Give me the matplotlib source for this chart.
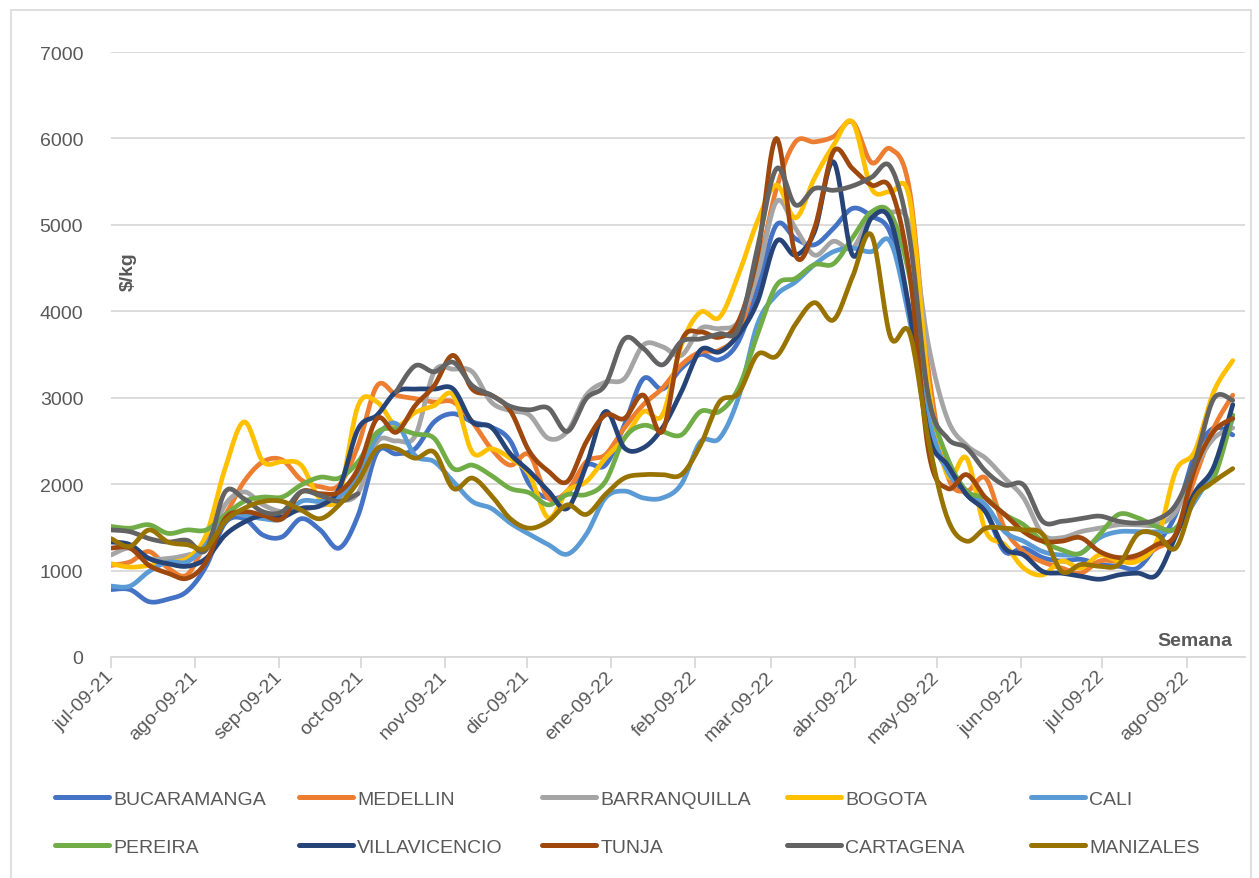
import numpy as np
import pandas as pd
import matplotlib
matplotlib.use('Agg')
import matplotlib.pyplot as plt
import matplotlib.dates as mdates
from matplotlib.lines import Line2D
from matplotlib.patches import Rectangle

plt.rcParams['font.family'] = ['Liberation Sans', 'DejaVu Sans']

# weekly prices ($/kg), starting jul-09-21
weeks = pd.date_range('2021-07-09', periods=60, freq='7D')

tick_dates = pd.to_datetime(['2021-07-09', '2021-08-09', '2021-09-09', '2021-10-09', '2021-11-09',
                             '2021-12-09', '2022-01-09', '2022-02-09', '2022-03-09', '2022-04-09',
                             '2022-05-09', '2022-06-09', '2022-07-09', '2022-08-09'])
tick_labels = ['jul-09-21', 'ago-09-21', 'sep-09-21', 'oct-09-21', 'nov-09-21', 'dic-09-21', 'ene-09-22',
               'feb-09-22', 'mar-09-22', 'abr-09-22', 'may-09-22', 'jun-09-22', 'jul-09-22', 'ago-09-22']

bucaramanga = [780, 780, 640, 670, 760, 1050, 1550, 1600, 1410, 1390, 1600, 1470, 1260, 1640, 2370,
               2350, 2410, 2720, 2815, 2720, 2660, 2500, 2000, 1840, 1900, 2220, 2220, 2680, 3220, 3100,
               3340, 3500, 3440, 3650, 4270, 5000, 4840, 4770, 4960, 5190, 5100, 4900, 4000, 2680, 2150,
               1880, 1680, 1220, 1260, 1150, 1110, 1130, 1070, 1050, 1030, 1300, 1650, 2340, 2650, 2570]
medellin = [1060, 1100, 1220, 1030, 950, 1330, 1640, 2030, 2260, 2280, 2050, 1970, 1990, 2450, 3140,
            3030, 2990, 2950, 2950, 2720, 2410, 2220, 2340, 1840, 1920, 2260, 2340, 2650, 2920, 3110,
            3380, 3530, 3550, 3760, 4460, 5420, 5960, 5960, 6020, 6190, 5720, 5880, 5400, 3300, 2100,
            1920, 2070, 1490, 1220, 1100, 1030, 970, 1110, 1110, 1150, 1260, 1420, 2070, 2650, 3030]
barranquilla = [1180, 1260, 1140, 1140, 1180, 1260, 1760, 1910, 1760, 1680, 1700, 1750, 1800, 1900, 2490,
                2500, 2560, 3300, 3330, 3300, 2950, 2850, 2800, 2530, 2610, 3030, 3180, 3220, 3610, 3590,
                3490, 3800, 3800, 3880, 4420, 5270, 4960, 4650, 4810, 4730, 5110, 5150, 4990, 3600, 2750,
                2450, 2300, 2070, 1840, 1420, 1380, 1450, 1490, 1530, 1530, 1530, 1680, 2180, 2530, 2650]
bogota = [1080, 1040, 1060, 1100, 1140, 1410, 2180, 2720, 2260, 2260, 2220, 1830, 1870, 2910, 2950,
          2680, 2830, 2910, 3030, 2370, 2410, 2300, 2110, 1610, 1920, 2030, 2300, 2530, 2840, 2800,
          3610, 3990, 3930, 4420, 5040, 5460, 5080, 5540, 5920, 6190, 5420, 5380, 5300, 3150, 2100,
          2300, 1460, 1300, 1030, 950, 1110, 1030, 1180, 1110, 1110, 1340, 2150, 2380, 3070, 3430]
cali = [820, 820, 990, 1100, 1100, 1300, 1640, 1640, 1600, 1600, 1800, 1800, 1850, 2100, 2550,
        2700, 2330, 2260, 2030, 1800, 1720, 1550, 1420, 1300, 1190, 1420, 1840, 1920, 1840, 1840,
        2000, 2490, 2530, 3000, 3850, 4190, 4340, 4540, 4690, 4730, 4690, 4800, 3900, 2760, 2150,
        1920, 1760, 1450, 1340, 1220, 1180, 1200, 1380, 1450, 1450, 1450, 1490, 1800, 2180, 2760]
pereira = [1510, 1490, 1530, 1430, 1470, 1470, 1640, 1800, 1850, 1850, 1990, 2080, 2070, 2260, 2600,
           2640, 2580, 2530, 2180, 2220, 2100, 1950, 1900, 1760, 1880, 1880, 2030, 2530, 2680, 2610,
           2570, 2840, 2840, 3110, 3730, 4300, 4380, 4540, 4550, 4850, 5150, 5130, 4400, 3000, 2300,
           1920, 1840, 1650, 1530, 1340, 1240, 1200, 1420, 1650, 1610, 1510, 1490, 1880, 2070, 2800]
villavicencio = [1330, 1300, 1140, 1080, 1050, 1140, 1410, 1560, 1640, 1620, 1720, 1750, 1950, 2640, 2800,
                 3070, 3100, 3100, 3100, 2720, 2660, 2350, 2150, 1920, 1720, 2220, 2840, 2420, 2420, 2650,
                 3070, 3550, 3530, 3730, 4110, 4810, 4650, 4920, 5730, 4650, 5080, 5050, 4000, 2570, 2220,
                 1880, 1680, 1260, 1180, 990, 970, 935, 900, 950, 970, 950, 1400, 1900, 2200, 2920]
tunja = [1260, 1260, 1060, 970, 910, 1100, 1600, 1680, 1640, 1600, 1910, 1890, 1910, 2180, 2760,
         2600, 2910, 3140, 3490, 3100, 3030, 2850, 2380, 2150, 2030, 2490, 2800, 2760, 3030, 2610,
         3650, 3760, 3700, 3880, 4650, 6000, 4650, 4960, 5850, 5650, 5460, 5420, 4450, 2380, 1950,
         2110, 1840, 1650, 1450, 1340, 1340, 1380, 1220, 1150, 1180, 1300, 1420, 2180, 2610, 2760]
cartagena = [1470, 1450, 1370, 1330, 1350, 1240, 1910, 1830, 1680, 1680, 1910, 1870, 1800, 1890, np.nan,
             3070, 3370, 3300, 3410, 3140, 3030, 2900, 2860, 2880, 2610, 2990, 3150, 3680, 3570, 3380,
             3650, 3680, 3740, 3800, 4730, 5650, 5230, 5420, 5400, 5450, 5550, 5670, 4850, 3000, 2530,
             2420, 2150, 1990, 1990, 1570, 1570, 1600, 1630, 1570, 1550, 1590, 1760, 2260, 2990, 2970]
manizales = [1370, 1280, 1470, 1330, 1300, 1260, 1570, 1720, 1800, 1800, 1700, 1600, 1760, 2030, 2410,
             2410, 2300, 2370, 1950, 2070, 1870, 1600, 1490, 1570, 1760, 1650, 1880, 2070, 2110, 2110,
             2110, 2450, 2950, 3050, 3500, 3480, 3850, 4100, 3900, 4400, 4880, 3700, 3750, 2500, 1600,
             1340, 1490, 1490, 1470, 1420, 990, 1070, 1050, 1070, 1420, 1420, 1260, 1840, 2030, 2180]

names = ['BUCARAMANGA', 'MEDELLIN', 'BARRANQUILLA', 'BOGOTA', 'CALI',
         'PEREIRA', 'VILLAVICENCIO', 'TUNJA', 'CARTAGENA', 'MANIZALES']
series = [bucaramanga, medellin, barranquilla, bogota, cali,
          pereira, villavicencio, tunja, cartagena, manizales]
colors = ['#4472C4', '#ED7D31', '#A5A5A5', '#FFC000', '#5B9BD5',
          '#70AD47', '#264478', '#9E480E', '#636363', '#997300']


def smooth(x, y, n=16):
    """Bezier smoothing (Excel-like) through the points of one segment."""
    xs, ys = [], []
    m = len(x)
    for i in range(m - 1):
        p0 = i - 1 if i > 0 else i
        p3 = i + 2 if i + 2 < m else i + 1
        c1x = x[i] + (x[i + 1] - x[p0]) / 6
        c1y = y[i] + (y[i + 1] - y[p0]) / 6
        c2x = x[i + 1] - (x[p3] - x[i]) / 6
        c2y = y[i + 1] - (y[p3] - y[i]) / 6
        t = np.linspace(0, 1, n, endpoint=(i == m - 2))
        a, b, c, d = (1 - t) ** 3, 3 * (1 - t) ** 2 * t, 3 * (1 - t) * t ** 2, t ** 3
        xs.append(a * x[i] + b * c1x + c * c2x + d * x[i + 1])
        ys.append(a * y[i] + b * c1y + c * c2y + d * y[i + 1])
    return np.concatenate(xs), np.concatenate(ys)


W, H = 1259, 879
fig = plt.figure(figsize=(W / 100, H / 100), dpi=100)
ax = fig.add_axes([111 / W, (H - 658) / H, (1245 - 111) / W, (658 - 53) / H])

xnum = mdates.date2num(weeks)
for name, vals, col in zip(names, series, colors):
    vals = np.array(vals, dtype=float)
    ok = np.isfinite(vals)
    # split at missing weeks
    idx = np.where(ok)[0]
    runs = np.split(idx, np.where(np.diff(idx) > 1)[0] + 1)
    for r in runs:
        if len(r) < 2:
            continue
        sx, sy = smooth(xnum[r], vals[r])
        ax.plot(sx, sy, color=col, lw=3.4, solid_capstyle='round', solid_joinstyle='round')

ax.set_xlim(xnum[0], xnum[0] + 417.5)
ax.set_ylim(0, 7000)
ax.set_yticks(np.arange(0, 7001, 1000))
ax.set_xticks(mdates.date2num(tick_dates))
ax.set_xticklabels(tick_labels, rotation=45, ha='right', va='center', rotation_mode='anchor')
ax.tick_params(axis='y', length=0, pad=20, labelsize=14, labelcolor='#595959')
ax.tick_params(axis='x', length=8, width=1.3, color='#D9D9D9', pad=4, labelsize=14, labelcolor='#595959')
ax.grid(axis='y', color='#D9D9D9', lw=1.3)
ax.set_axisbelow(True)
for s in ['top', 'right', 'left']:
    ax.spines[s].set_visible(False)
ax.spines['bottom'].set_color('#D9D9D9')
ax.spines['bottom'].set_linewidth(1.3)

fig.text(128 / W, 1 - 272 / H, '$/kg', rotation=90, fontsize=14, fontweight='bold',
         color='#595959', ha='center', va='center', parse_math=False)
fig.text(1232 / W, 1 - 642 / H, 'Semana', fontsize=14, fontweight='bold',
         color='#595959', ha='right', va='center')

# legend, 2 rows x 5 columns
col_x = [55, 299, 542, 787, 1031]
row_y = [800, 848]
for k, (name, col) in enumerate(zip(names, colors)):
    h = Line2D([], [], color=col, lw=3.6, solid_capstyle='round')
    fig.legend([h], [name], loc='center left',
               bbox_to_anchor=(col_x[k % 5] / W, 1 - row_y[k // 5] / H),
               frameon=False, borderpad=0, borderaxespad=0, handlelength=2.8,
               handletextpad=0.2, fontsize=14, labelcolor='#595959')

fig.add_artist(Rectangle((11 / W, -0.01), (1251 - 11) / W, (H - 11) / H + 0.01,
                         transform=fig.transFigure, fill=False, ec='#D9D9D9', lw=1.2))

fig.savefig('out.png', dpi=100)
